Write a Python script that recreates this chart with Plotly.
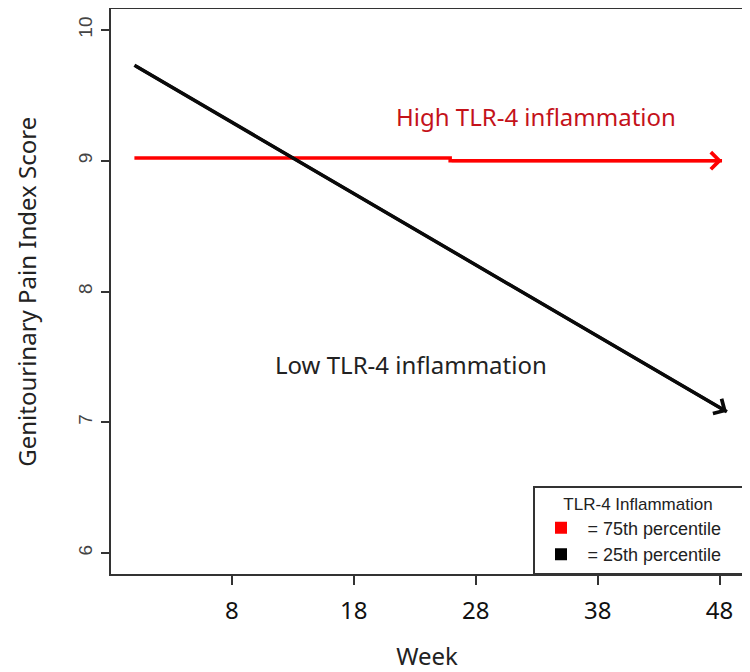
import plotly.graph_objects as go

# ---- data ----
weeks_low = [0, 48.6]
score_low = [9.73, 7.08]
weeks_high = [0, 25.9, 25.9, 48.2]
score_high = [9.02, 9.02, 9.0, 9.0]
x_ticks = [8, 18, 28, 38, 48]
y_ticks = [6, 7, 8, 9, 10]
x_range = [-1.92, 49.92]
y_range = [5.84, 10.16]
legend_labels = ["= 75th percentile", "= 25th percentile"]
legend_colors = ["#ff0000", "#000000"]
label_high = "High TLR-4 inflammation"
label_low = "Low TLR-4 inflammation"
label_high_pos = (32.9, 9.335)
label_low_pos = (22.7, 7.44)
y_title = "Genitourinary Pain Index Score"
x_title = "Week"

RED = "#ff0000"
BLACK = "#0a0a0a"
SANS = "Noto Sans, Open Sans, sans-serif"
ARIAL = "Liberation Sans, Arial, sans-serif"
PAD = "\u00a0\u00a0\u00a0"  # right padding inside the legend box

fig = go.Figure()

# lines
fig.add_trace(go.Scatter(x=weeks_high, y=score_high, mode="lines",
                         line=dict(color=RED, width=3.5), showlegend=False,
                         hoverinfo="skip"))
fig.add_trace(go.Scatter(x=weeks_low, y=score_low, mode="lines",
                         line=dict(color=BLACK, width=3.5), showlegend=False,
                         hoverinfo="skip"))

# legend entries
for lab, col in zip(legend_labels, legend_colors):
    fig.add_trace(go.Scatter(x=[None], y=[None], mode="markers", name=lab + PAD,
                             marker=dict(symbol="square", size=13, color=col)))

# arrow heads at the ends of the lines (last segment of each)
for xs, ys, col in [(weeks_high, score_high, RED), (weeks_low, score_low, BLACK)]:
    fig.add_annotation(x=xs[-1], y=ys[-1], ax=xs[-2], ay=ys[-2],
                       xref="x", yref="y", axref="x", ayref="y",
                       showarrow=True, arrowhead=4, arrowsize=1.1,
                       arrowwidth=3, arrowcolor=col, standoff=0, text="")

# text labels
fig.add_annotation(x=label_high_pos[0], y=label_high_pos[1], text=label_high,
                   showarrow=False, font=dict(family=SANS, size=24, color="#c4121a"))
fig.add_annotation(x=label_low_pos[0], y=label_low_pos[1], text=label_low,
                   showarrow=False, font=dict(family=SANS, size=24, color="#222222"))

# y axis title (placed as rotated text in the left margin)
fig.add_annotation(x=-0.134, y=0.5, xref="paper", yref="paper", text=y_title,
                   textangle=-90, showarrow=False, xanchor="center", yanchor="middle",
                   font=dict(family=SANS, size=24, color="#222222"))

# the page body adds an 8px offset, so the figure is 8px smaller than the window
fig.update_layout(
    width=742, height=664,
    margin=dict(l=103, r=7, t=1, b=98, autoexpand=False),
    paper_bgcolor="white", plot_bgcolor="white",
    legend=dict(x=1, xanchor="right", y=0, yanchor="bottom",
                bgcolor="white", bordercolor="#333333", borderwidth=1.5,
                font=dict(family=ARIAL, size=18, color="#222222"),
                title=dict(text="TLR-4 Inflammation", side="top center",
                           font=dict(family=ARIAL, size=17, color="#222222")),
                itemwidth=43,
                tracegroupgap=0, itemsizing="constant"),
)

fig.update_xaxes(range=x_range, tickvals=x_ticks, ticktext=[str(t) for t in x_ticks],
                 showgrid=False, zeroline=False, showline=True, mirror=True,
                 linecolor="#333333", linewidth=1.5, automargin=False,
                 ticks="outside", ticklen=9, tickwidth=1.5, tickcolor="#333333",
                 ticklabelstandoff=5,
                 tickfont=dict(family=SANS, size=24, color="#111111"),
                 title=dict(text=x_title, font=dict(family=SANS, size=24, color="#222222"),
                            standoff=27))
fig.update_yaxes(range=y_range, tickvals=y_ticks, ticktext=[str(t) for t in y_ticks],
                 showgrid=False, zeroline=False, showline=True, mirror=True,
                 linecolor="#333333", linewidth=1.5, automargin=False,
                 ticks="outside", ticklen=8, tickwidth=1.5, tickcolor="#333333",
                 tickangle=-90, ticklabelstandoff=2,
                 tickfont=dict(family=ARIAL, size=19, color="#444444"))

fig.write_html("out.html")
